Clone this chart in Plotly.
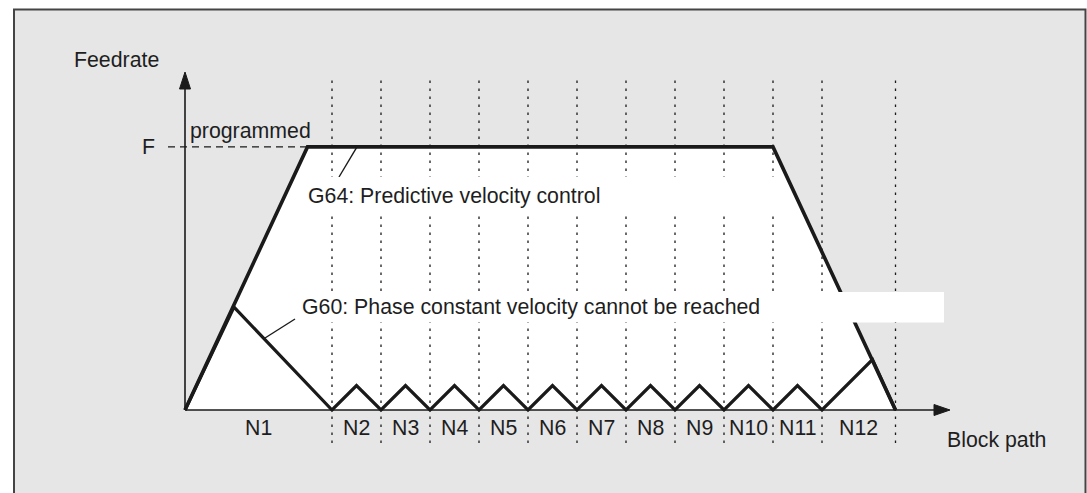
import plotly.graph_objects as go

# ---------------- data (block-path units; F = programmed feedrate) ----------------
F_LEVEL = 5.37
block_bounds = [0, 3, 4, 5, 6, 7, 8, 9, 10, 11, 12, 13, 14.5]
block_labels = ["N1", "N2", "N3", "N4", "N5", "N6", "N7", "N8", "N9", "N10", "N11", "N12"]

g64_x = [0, 2.5, 12, 14.5]
g64_y = [0, F_LEVEL, F_LEVEL, 0]

g60_x = [0, 1.0, 3, 3.5, 4, 4.5, 5, 5.5, 6, 6.5, 7, 7.5, 8, 8.5, 9, 9.5, 10,
         10.5, 11, 11.5, 12, 12.5, 13, 14.03, 14.5]
g60_y = [0, 2.1, 0, 0.5, 0, 0.5, 0, 0.5, 0, 0.5, 0, 0.5, 0, 0.5, 0, 0.5, 0,
         0.5, 0, 0.5, 0, 0.5, 0, 1.03, 0]

# ---------------- layout geometry (pixels) ----------------
W, H = 1087, 493
PX = 49.0          # pixels per unit
X0, Y0 = 185, 410  # pixel position of origin


def dx(px):
    return (px - X0) / PX


def dy(py):
    return (Y0 - py) / PX


INK = "#1a1a1a"
TXT = "#1e1e1e"
BG = "#e6e6e6"
FONT = "Liberation Sans, Arial, sans-serif"
FS = 21.3

fig = go.Figure()

# white area under the G64 profile
fig.add_trace(go.Scatter(x=g64_x, y=g64_y, fill="toself", fillcolor="white",
                         mode="none", hoverinfo="skip", showlegend=False))

# dotted block boundaries
dot_top, dot_bot = dy(78), dy(443)
for b in block_bounds[1:]:
    fig.add_trace(go.Scatter(x=[b, b], y=[dot_bot, dot_top], mode="lines",
                             line=dict(color=INK, width=1.3, dash="2.5px,5.5px"),
                             hoverinfo="skip", showlegend=False))

# dashed F level line
fig.add_trace(go.Scatter(x=[dx(168), g64_x[1]], y=[F_LEVEL, F_LEVEL], mode="lines",
                         line=dict(color=INK, width=1.3, dash="7px,5px"),
                         hoverinfo="skip", showlegend=False))

# axes
fig.add_trace(go.Scatter(x=[0, 0], y=[0, dy(86)], mode="lines",
                         line=dict(color=INK, width=1.6), hoverinfo="skip", showlegend=False))
fig.add_trace(go.Scatter(x=[0, dx(937)], y=[0, 0], mode="lines",
                         line=dict(color=INK, width=1.6), hoverinfo="skip", showlegend=False))

# G60 profile
fig.add_trace(go.Scatter(x=g60_x, y=g60_y, mode="lines",
                         line=dict(color=INK, width=3.2), hoverinfo="skip", showlegend=False))
# G64 profile
fig.add_trace(go.Scatter(x=g64_x, y=g64_y, mode="lines",
                         line=dict(color=INK, width=3.6), hoverinfo="skip", showlegend=False))

# leader lines
fig.add_trace(go.Scatter(x=[dx(357), dx(339)], y=[F_LEVEL, dy(177)], mode="lines",
                         line=dict(color=INK, width=1.4), hoverinfo="skip", showlegend=False))
fig.add_trace(go.Scatter(x=[dx(265), dx(295)], y=[dy(338), dy(319)], mode="lines",
                         line=dict(color=INK, width=1.4), hoverinfo="skip", showlegend=False))

shapes = [
    # grey frame
    dict(type="rect", xref="x", yref="y", x0=dx(14), x1=dx(1085.5), y0=dy(520), y1=dy(9.5),
         fillcolor=BG, line=dict(color="#444444", width=2), layer="below"),
    # white box behind G64 text
    dict(type="rect", xref="x", yref="y", x0=dx(300), x1=dx(780), y0=dy(213), y1=dy(177),
         fillcolor="white", line=dict(width=0), layer="above"),
    # white box behind G60 text
    dict(type="rect", xref="x", yref="y", x0=dx(298), x1=dx(944), y0=dy(322.5), y1=dy(292),
         fillcolor="white", line=dict(width=0), layer="above"),
    # arrow heads
    dict(type="path", xref="x", yref="y",
         path=f"M {dx(179.5)},{dy(89)} L {dx(190.5)},{dy(89)} L 0,{dy(72)} Z",
         fillcolor=INK, line=dict(color=INK, width=1), layer="above"),
    dict(type="path", xref="x", yref="y",
         path=f"M {dx(934)},{dy(404.5)} L {dx(934)},{dy(415.5)} L {dx(950)},0 Z",
         fillcolor=INK, line=dict(color=INK, width=1), layer="above"),
]

annotations = []


def txt(text, x, y, xanchor="left"):
    annotations.append(dict(text=text, x=x, y=y, xref="x", yref="y", showarrow=False,
                            xanchor=xanchor, yanchor="middle",
                            font=dict(family=FONT, size=FS, color=TXT)))


txt("Feedrate", dx(72), dy(60))
txt("F", dx(157), F_LEVEL, xanchor="right")
txt("programmed", dx(188), dy(131))
txt("G64: Predictive velocity control", dx(306), dy(196))
txt("G60: Phase constant velocity cannot be reached", dx(300), dy(307))
txt("Block path", dx(945), dy(440))

for i, lab in enumerate(block_labels):
    mid = (block_bounds[i] + block_bounds[i + 1]) / 2
    annotations.append(dict(text=lab, x=mid, y=dy(428), xref="x", yref="y", showarrow=False,
                            xanchor="center", yanchor="middle",
                            font=dict(family=FONT, size=FS, color=TXT)))

fig.update_layout(
    width=W, height=H, autosize=False,
    margin=dict(l=0, r=0, t=0, b=0, pad=0),
    paper_bgcolor="white", plot_bgcolor="white",
    xaxis=dict(range=[dx(0), dx(W)], visible=False, showgrid=False, zeroline=False, fixedrange=True),
    yaxis=dict(range=[dy(H), dy(0)], visible=False, showgrid=False, zeroline=False, fixedrange=True),
    shapes=shapes, annotations=annotations, showlegend=False,
)

fig.write_html("out.html", config={"displayModeBar": False},
               post_script="document.body.style.margin='0';document.body.style.overflow='hidden';")
